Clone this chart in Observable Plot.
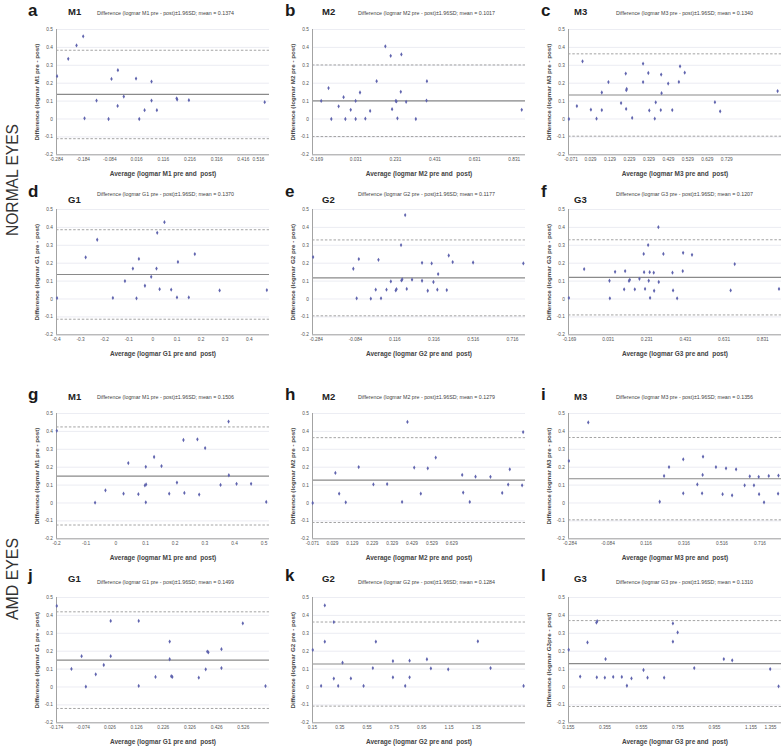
<!DOCTYPE html>
<html><head><meta charset="utf-8">
<script src="https://cdn.jsdelivr.net/npm/d3@7"></script>
<script src="https://cdn.jsdelivr.net/npm/@observablehq/plot@0.6"></script>
<style>
body{margin:0;background:#fff;}
#fig{position:relative;width:781px;height:747px;overflow:hidden;background:#fff;}
#fig .pan{position:absolute;}
#overlay{position:absolute;left:0;top:0;pointer-events:none;}
</style></head><body><div id="fig"></div><script>
// ---------- data ----------
const letters = ["a","b","c","d","e","f","g","h","i","j","k","l"];
const titles = ["M1","M2","M3","G1","G2","G3","M1","M2","M3","G1","G2","G3"];
const means = [0.1374,0.1017,0.1340,0.1370,0.1177,0.1207,0.1506,0.1279,0.1356,0.1499,0.1284,0.1310];
const meanText = ["0.1374","0.1017","0.1340","0.1370","0.1177","0.1207","0.1506","0.1279","0.1356","0.1499","0.1284","0.1310"];
const upper = [0.384,0.302,0.364,0.387,0.330,0.331,0.425,0.365,0.366,0.420,0.363,0.371];
const lower = [-0.110,-0.098,-0.096,-0.113,-0.094,-0.089,-0.123,-0.109,-0.094,-0.120,-0.107,-0.109];
const yLabels = ["Difference (logmar M1 pre - post)","Difference (logmar M2 pre - post)","Difference (logmar M3 pre - post)",
  "Difference (logmar G1 pre - post)","Difference (logmar G2 pre - post)","Difference (logmar G3 pre - post)",
  "Difference (logmar M1 pre - post)","Difference (logmar M2 pre - post)","Difference (logmar M3 pre - post)",
  "Difference (logmar G1 pre - post)","Difference (logmar G2 pre - post)","Difference (logmar G3pre - post)"];
const xLabels = ["Average (logmar M1 pre and  post)","Average (logmar M2 pre and  post)","Average (logmar M3 pre and  post)",
  "Average (logmar G1 pre and  post)","Average (logmar G2 pre and  post)","Average (logmar G3 pre and  post)",
  "Average (logmar M1 pre and  post)","Average (logmar M2 pre and  post)","Average (logmar M3 pre and  post)",
  "Average (logmar G1 pre and  post)","Average (logmar G2 pre and  post)","Average (logmar G3 pre and  post)"];
const yTicks = ["0.5","0.4","0.3","0.2","0.1","0","-0.1","-0.2"];

const aTicks = ["-0.284","-0.184","-0.084","0.016","0.116","0.216","0.316","0.416"];
const bTicks = ["-0.169","0.031","0.231","0.431","0.631","0.831"];
const cTicks = ["-0.071","0.029","0.129","0.229","0.329","0.429","0.529","0.629","0.729"];
const dTicks = ["-0.4","-0.3","-0.2","-0.1","0","0.1","0.2","0.3","0.4"];
const eTicks = ["-0.284","-0.084","0.116","0.316","0.516","0.716"];
const fTicks = ["-0.169","0.031","0.231","0.431","0.631","0.831"];
const gTicks = ["-0.2","-0.1","0","0.1","0.2","0.3","0.4","0.5"];
const hTicks = ["-0.071","0.029","0.129","0.229","0.329","0.429","0.529","0.629"];
const iTicks = ["-0.284","-0.084","0.116","0.316","0.516","0.716"];
const jTicks = ["-0.174","-0.074","0.026","0.126","0.226","0.326","0.426","0.526"];
const kTicks = ["0.15","0.35","0.55","0.75","0.95","1.15","1.35"];
const lTicks = ["0.155","0.355","0.555","0.755","0.955","1.155"];
const edgeTicks = ["0.516",null,null,null,null,null,null,null,null,null,null,"1.355"];

const xDomains = [[-0.284,0.514],[-0.188,0.888],[-0.084,1.010],[-0.4,0.484],[-0.303,0.782],[-0.174,0.928],
  [-0.2,0.518],[-0.071,0.999],[-0.292,0.829],[-0.174,0.624],[0.15,1.71],[0.155,1.322]];

const aAvg = [-0.282,-0.240,-0.209,-0.184,-0.179,-0.134,-0.089,-0.078,-0.055,-0.054,-0.032,0.014,0.026,0.046,0.072,0.072,0.092,0.166,0.168,0.212,0.496];
const aDiff = [0.239,0.336,0.411,0.462,0.004,0.103,0.0,0.224,0.073,0.273,0.125,0.226,0.0,0.049,0.209,0.103,0.049,0.115,0.109,0.105,0.094];
const bAvg = [-0.144,-0.107,-0.093,-0.056,-0.031,-0.022,0.005,0.030,0.030,0.052,0.079,0.103,0.136,0.180,0.207,0.214,0.233,0.236,0.241,0.258,0.261,0.285,0.334,0.388,0.390,0.869];
const bDiff = [0.101,0.173,0.0,0.071,0.122,0.0,0.051,0.101,0.0,0.148,0.002,0.045,0.211,0.406,0.353,0.055,0.101,0.098,0.004,0.152,0.361,0.096,0.0,0.103,0.211,0.051];
const cAvg = [-0.082,-0.041,-0.012,0.031,0.060,0.087,0.087,0.121,0.186,0.210,0.212,0.213,0.215,0.243,0.299,0.299,0.326,0.331,0.359,0.364,0.390,0.392,0.394,0.428,0.449,0.483,0.489,0.513,0.668,0.695,0.990];
const cDiff = [0.0,0.072,0.322,0.052,0.002,0.05,0.148,0.206,0.089,0.254,0.056,0.161,0.168,0.006,0.309,0.206,0.257,0.048,0.002,0.093,0.05,0.248,0.144,0.198,0.05,0.207,0.294,0.259,0.094,0.043,0.156];
const dAvg = [-0.398,-0.279,-0.231,-0.166,-0.116,-0.083,-0.068,-0.058,-0.033,-0.007,0.015,0.018,0.028,0.048,0.076,0.100,0.104,0.149,0.174,0.277,0.473];
const dDiff = [0.005,0.233,0.331,0.006,0.1,0.17,0.004,0.224,0.074,0.124,0.17,0.37,0.055,0.429,0.052,0.009,0.207,0.009,0.251,0.048,0.05];
const eAvg = [-0.300,-0.095,-0.078,-0.067,-0.006,0.019,0.033,0.046,0.074,0.096,0.121,0.125,0.148,0.150,0.154,0.169,0.177,0.204,0.255,0.255,0.284,0.304,0.313,0.333,0.337,0.381,0.391,0.411,0.515,0.771];
const eDiff = [0.234,0.169,0.004,0.223,0.002,0.052,0.219,0.004,0.052,0.098,0.048,0.055,0.301,0.104,0.110,0.469,0.056,0.108,0.202,0.102,0.046,0.199,0.095,0.052,0.139,0.05,0.243,0.206,0.204,0.199];
const fAvg = [-0.172,-0.093,0.038,0.040,0.067,0.114,0.119,0.139,0.143,0.169,0.193,0.215,0.217,0.222,0.238,0.241,0.246,0.248,0.267,0.269,0.291,0.293,0.317,0.364,0.367,0.388,0.417,0.419,0.465,0.665,0.686,0.915];
const fDiff = [0.006,0.167,0.102,0.004,0.152,0.054,0.156,0.101,0.107,0.054,0.113,0.252,0.150,0.056,0.301,0.102,0.150,0.006,0.147,0.046,0.401,0.095,0.252,0.147,0.048,0.004,0.156,0.258,0.247,0.048,0.195,0.056];
const gAvg = [-0.199,-0.070,-0.035,0.026,0.042,0.076,0.098,0.102,0.101,0.101,0.129,0.154,0.180,0.206,0.228,0.231,0.275,0.281,0.301,0.353,0.380,0.381,0.407,0.456,0.507];
const gDiff = [0.403,0.002,0.071,0.052,0.223,0.049,0.098,0.104,0.202,0.004,0.257,0.206,0.052,0.114,0.352,0.056,0.356,0.047,0.307,0.101,0.455,0.155,0.107,0.107,0.006];
const hAvg = [-0.070,0.044,0.063,0.096,0.161,0.235,0.304,0.379,0.406,0.440,0.473,0.508,0.548,0.681,0.686,0.719,0.748,0.823,0.882,0.912,0.920,0.982,0.987];
const hDiff = [0.0,0.168,0.052,0.004,0.201,0.104,0.106,0.006,0.453,0.198,0.052,0.194,0.254,0.157,0.058,0.006,0.147,0.146,0.056,0.103,0.188,0.099,0.396];
const iAvg = [-0.290,-0.188,0.188,0.211,0.237,0.312,0.312,0.386,0.411,0.416,0.414,0.484,0.519,0.537,0.569,0.590,0.635,0.662,0.684,0.709,0.711,0.737,0.762,0.813,0.811];
const iDiff = [0.235,0.45,0.007,0.151,0.201,0.244,0.054,0.104,0.054,0.259,0.157,0.201,0.049,0.194,0.043,0.188,0.099,0.149,0.099,0.146,0.049,0.004,0.151,0.153,0.052];
const jAvg = [-0.173,-0.118,-0.080,-0.064,-0.027,0.003,0.029,0.029,0.134,0.134,0.197,0.250,0.250,0.256,0.260,0.359,0.385,0.391,0.395,0.444,0.444,0.524,0.609];
const jDiff = [0.453,0.101,0.172,0.002,0.071,0.123,0.369,0.172,0.369,0.006,0.056,0.254,0.155,0.060,0.056,0.052,0.099,0.198,0.194,0.211,0.106,0.356,0.005];
const kAvg = [0.152,0.213,0.240,0.240,0.306,0.306,0.338,0.370,0.431,0.524,0.592,0.614,0.739,0.739,0.829,0.861,0.861,0.988,1.017,1.144,1.361,1.454,1.696];
const kDiff = [0.207,0.006,0.456,0.253,0.363,0.047,0.006,0.136,0.048,0.006,0.106,0.253,0.145,0.054,0.006,0.147,0.054,0.155,0.104,0.099,0.255,0.106,0.006];
const lAvg = [0.156,0.219,0.259,0.308,0.312,0.310,0.354,0.358,0.400,0.447,0.475,0.500,0.566,0.588,0.679,0.727,0.727,0.753,0.844,1.006,1.052,1.260,1.306];
const lDiff = [0.208,0.058,0.249,0.360,0.368,0.054,0.052,0.156,0.056,0.056,0.007,0.048,0.095,0.052,0.052,0.355,0.253,0.305,0.106,0.156,0.149,0.100,0.004];

const avgs = [aAvg,bAvg,cAvg,dAvg,eAvg,fAvg,gAvg,hAvg,iAvg,jAvg,kAvg,lAvg];
const diffs = [aDiff,bDiff,cDiff,dDiff,eDiff,fDiff,gDiff,hDiff,iDiff,jDiff,kDiff,lDiff];
const xTicks = [aTicks,bTicks,cTicks,dTicks,eTicks,fTicks,gTicks,hTicks,iTicks,jTicks,kTicks,lTicks];
const groups = ["NORMAL EYES","AMD EYES"];

// ---------- layout ----------
const colX = [56, 312, 568];
const rowY = [29, 209.3, 413.3, 597.3];
const innerW = 213, innerH = 125.3;
const mL = 34, mR = 16, mT = 6, mB = 28;
const FONT = "'Liberation Sans', Arial, sans-serif";
const fig = document.getElementById("fig");

for (let k = 0; k < 12; k++) {
  const col = k % 3, row = Math.floor(k / 3);
  const pts = avgs[k].map((x, j) => ({x, y: diffs[k][j]}));
  const yv = yTicks.map(Number);
  const marks = [
    Plot.ruleY(yv, {stroke: "#e2e4ec", strokeWidth: 0.7}),
    Plot.ruleY([lower[k], upper[k]], {stroke: "#9a9a9a", strokeWidth: 0.9, strokeDasharray: "2.5,1.8"}),
    Plot.ruleY([means[k]], {stroke: "#8a8a8a", strokeWidth: 1.2}),
    Plot.ruleX([xDomains[k][0]], {stroke: "#a3a3a3", strokeWidth: 1}),
    Plot.ruleY([-0.2], {stroke: "#a3a3a3", strokeWidth: 1}),
    Plot.dot(pts, {x: "x", y: "y", r: 1.3, symbol: "diamond", fill: "#6064ae"}),
    Plot.axisY({ticks: yv, tickSize: 0, tickPadding: 3.5, tickFormat: d => String(d), fontSize: 4.8, color: "#555", label: null}),
    Plot.axisX({ticks: xTicks[k].map(Number), tickSize: 0, tickPadding: 3.2, tickFormat: d => String(d), fontSize: 4.8, color: "#555", label: null}),
    Plot.text([yLabels[k]], {text: d => d, frameAnchor: "left", textAnchor: "middle", lineAnchor: "middle", rotate: -90, dx: -19, fontSize: 6.2, fontWeight: "bold", fill: "#444"}),
    Plot.text([xLabels[k]], {text: d => d, frameAnchor: "bottom", textAnchor: "middle", lineAnchor: "middle", dy: 19.5, fontSize: 6.5, fontWeight: "bold", fill: "#444"})
  ];
  if (edgeTicks[k]) marks.push(Plot.text([edgeTicks[k]], {text: d => d, frameAnchor: "bottom-right", textAnchor: "end", lineAnchor: "top", dy: 3.2, dx: -5, fontSize: 4.8, fill: "#555"}));
  const svg = Plot.plot({
    width: mL + innerW + mR, height: mT + innerH + mB,
    marginLeft: mL, marginRight: mR, marginTop: mT, marginBottom: mB,
    x: {domain: xDomains[k]}, y: {domain: [-0.2, 0.5]},
    style: {background: "transparent", overflow: "visible", fontFamily: FONT},
    marks
  });
  svg.classList.add("pan");
  svg.style.left = (colX[col] - mL) + "px";
  svg.style.top = (rowY[row] - mT) + "px";
  svg.style.maxWidth = "none";
  fig.appendChild(svg);
}

// ---------- headings (letters, titles, subtitles, group labels) ----------
const ov = d3.select(fig).append("svg").attr("id", "overlay").attr("width", 781).attr("height", 747)
  .style("font-family", FONT);
const letterX = [28, 285, 541], titleX = [68, 322, 574], subX = [97, 358, 616];
const letterBase = [15.5, 196.5, 400, 581], titleBase = [15, 203, 399.5, 582], subBase = [15, 196, 398.5, 583.5];
for (let k = 0; k < 12; k++) {
  const col = k % 3, row = Math.floor(k / 3);
  ov.append("text").attr("x", letterX[col]).attr("y", letterBase[row]).text(letters[k])
    .attr("font-size", 17).attr("font-weight", "bold").attr("fill", "#1a1a1a");
  ov.append("text").attr("x", titleX[col]).attr("y", titleBase[row]).text(titles[k])
    .attr("font-size", 9.5).attr("font-weight", "bold").attr("fill", "#222");
  const tt = titles[k];
  ov.append("text").attr("x", subX[col]).attr("y", subBase[row])
    .text(`Difference (logmar ${tt} pre - post)±1.96SD; mean = ${meanText[k]}`)
    .attr("font-size", 4.8).attr("fill", "#444").attr("textLength", 137).attr("lengthAdjust", "spacingAndGlyphs");
}
const groupY = [180, 579], groupLen = [112, 82];
groups.forEach((g, i) => {
  ov.append("text").attr("transform", `translate(17.5,${groupY[i]}) rotate(-90)`).attr("text-anchor", "middle")
    .text(g).attr("font-size", 17).attr("fill", "#333")
    .attr("textLength", groupLen[i]).attr("lengthAdjust", "spacingAndGlyphs");
});
</script></body></html>
